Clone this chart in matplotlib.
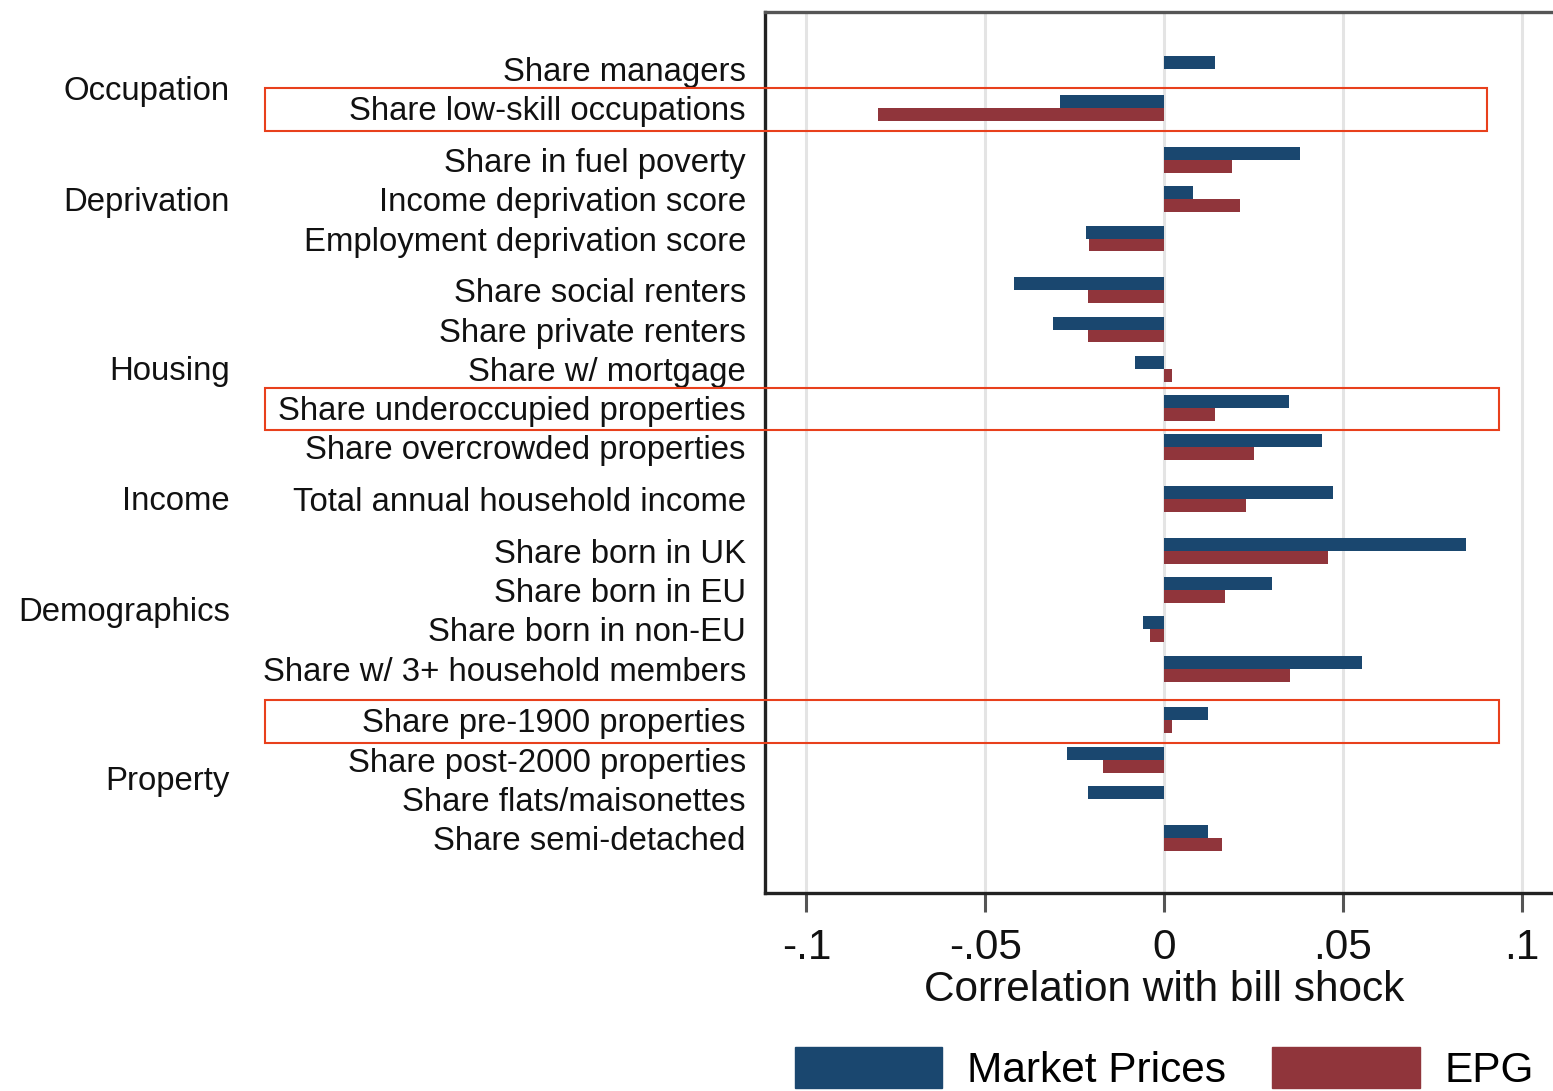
import matplotlib
matplotlib.use("Agg")
import matplotlib.pyplot as plt
from matplotlib.patches import Rectangle, Patch
import matplotlib.transforms as mtransforms
import numpy as np

plt.rcParams['font.family'] = ['Liberation Sans', 'DejaVu Sans']

# ---------------- data ----------------
groups = ["Occupation", "Deprivation", "Housing", "Income", "Demographics", "Property"]
group_sizes = [2, 3, 5, 1, 4, 4]
labels = [
    "Share managers", "Share low-skill occupations",
    "Share in fuel poverty", "Income deprivation score", "Employment deprivation score",
    "Share social renters", "Share private renters", "Share w/ mortgage",
    "Share underoccupied properties", "Share overcrowded properties",
    "Total annual household income",
    "Share born in UK", "Share born in EU", "Share born in non-EU", "Share w/ 3+ household members",
    "Share pre-1900 properties", "Share post-2000 properties", "Share flats/maisonettes",
    "Share semi-detached",
]
market_prices = [0.0143, -0.0290,
                 0.0380, 0.0081, -0.0218,
                 -0.0420, -0.0310, -0.0081, 0.0350, 0.0442,
                 0.0473,
                 0.0845, 0.0302, -0.0059, 0.0554,
                 0.0123, -0.0271, -0.0212, 0.0123]
epg = [0.0, -0.0800,
       0.0190, 0.0213, -0.0210,
       -0.0212, -0.0212, 0.0023, 0.0143, 0.0252,
       0.0229,
       0.0460, 0.0171, -0.0039, 0.0352,
       0.0023, -0.0171, 0.0, 0.0162]
highlighted = ["Share low-skill occupations", "Share underoccupied properties",
               "Share pre-1900 properties"]
xticks = [-0.1, -0.05, 0, 0.05, 0.1]
xtick_labels = ["-.1", "-.05", "0", ".05", ".1"]
series_names = ["Market Prices", "EPG"]

# ---------------- layout ----------------
W, H = 1553, 1091
fig = plt.figure(figsize=(W / 100, H / 100), dpi=100)
ax = fig.add_axes([765 / W, 1 - 893 / H, (1563 - 765) / W, (893 - 12) / H])

gap = 0.32
pos = []
p = 0.0
for gi, n in enumerate(group_sizes):
    if gi > 0:
        p += 1 + gap
    for k in range(n):
        if k > 0:
            p += 1
        pos.append(p)
pos = np.array(pos)

blue = "#1a476f"
red = "#90353b"
h = 0.33
ax.barh(pos - h / 2, market_prices, height=h, color=blue, zorder=3)
ax.barh(pos + h / 2, epg, height=h, color=red, zorder=3)

ax.set_xlim(-0.1116, 0.1116)
ax.set_ylim(pos[-1] + 1.40, pos[0] - 1.453)

ax.set_xticks(xticks)
ax.set_xticklabels(xtick_labels, fontsize=30.5, color="#111111")
ax.tick_params(axis="x", length=13.7, width=2.2, color="#555555", pad=11.5)
ax.set_yticks(pos)
ax.set_yticklabels(labels, fontsize=23.7, color="#111111")
ax.tick_params(axis="y", length=0, pad=13.7)

ax.grid(axis="x", color="#e4e4e4", lw=2.2, zorder=0)
ax.set_axisbelow(True)

ax.spines["top"].set_color("#555555")
ax.spines["top"].set_linewidth(2.4)
ax.spines["left"].set_color("#222222")
ax.spines["left"].set_linewidth(2.4)
ax.spines["bottom"].set_color("#222222")
ax.spines["bottom"].set_linewidth(2.4)
ax.spines["right"].set_visible(False)

# group labels
blend = mtransforms.blended_transform_factory(fig.transFigure, ax.transData)
start = 0
for g, n in zip(groups, group_sizes):
    yc = pos[start:start + n].mean()
    ax.text(230 / W, yc + 0.07, g, transform=blend, ha="right", va="center",
            fontsize=23.7, color="#111111")
    start += n

# highlight boxes
right_edges = {"Share low-skill occupations": 1487,
               "Share underoccupied properties": 1499,
               "Share pre-1900 properties": 1499}
for lab in highlighted:
    yc = pos[labels.index(lab)]
    x0 = 265 / W
    x1 = right_edges[lab] / W
    ax.add_patch(Rectangle((x0, yc - 0.52), x1 - x0, 1.09, transform=blend,
                           fill=False, edgecolor="#e8401c", lw=1.5,
                           clip_on=False, zorder=5))

# x label
fig.text(1164 / W, 1 - 1001 / H, "Correlation with bill shock", ha="center",
         va="baseline", fontsize=30.5, color="#111111")

# legend
handles = [Patch(facecolor=blue, edgecolor=blue), Patch(facecolor=red, edgecolor=red)]
fig.legend(handles, series_names, loc="upper center",
           bbox_to_anchor=(1164 / W, 1 - 1047 / H), ncol=2, frameon=False,
           fontsize=30.5, handlelength=3.49, handleheight=1.12,
           handletextpad=0.57, columnspacing=1.1, borderpad=0, borderaxespad=0)

fig.savefig("out.png", dpi=100)
